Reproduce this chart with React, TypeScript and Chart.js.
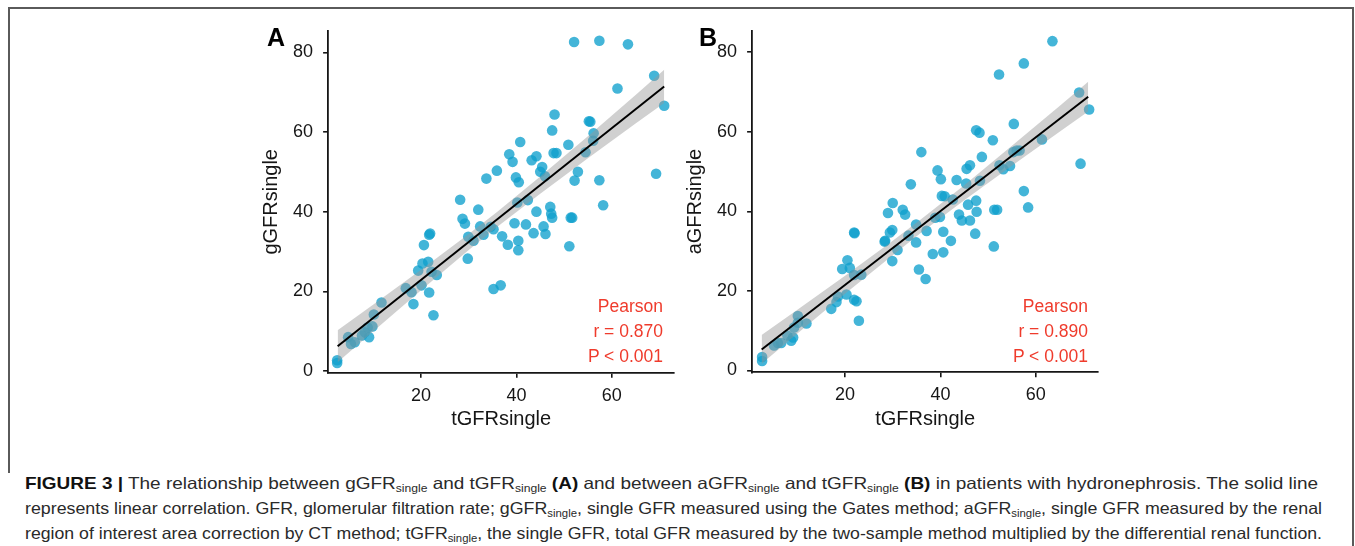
import React, { useEffect, useLayoutEffect, useRef } from "react";
import { Chart, registerables } from "chart.js";

Chart.register(...registerables);

// ---------------- data ----------------
const tGFR_A = [
  2.4, 2.4, 4.7, 5.3, 6.1, 7.6, 8.2, 9.1, 8.8, 9.8, 10.1, 11.7, 16.8, 18.0, 18.4, 19.4, 20.1, 20.3, 21.5, 20.6,
  21.7, 21.9, 22.2, 23.3, 21.7, 22.6, 35.2, 36.7, 29.8,
  52.1, 57.4, 63.4, 68.9, 61.2, 71.0, 69.3, 48.0, 47.5, 55.2, 55.5, 56.2, 56.1, 54.5, 50.9, 48.4, 47.8, 40.8, 38.5,
  39.2, 43.2, 44.2, 45.4, 45.0, 46.0, 35.9, 33.7, 39.9, 40.5, 52.9, 52.2, 57.4, 58.2, 28.2, 32.0, 28.7, 29.2, 40.2,
  42.4, 44.2, 47.1, 47.3, 47.5, 51.4, 51.7, 32.4, 34.6, 35.2, 39.6, 42.0, 45.7, 29.9, 31.0, 33.1, 37.0, 43.6, 46.1,
  40.4, 38.2, 40.4, 51.1,
];
const gGFR = [
  2.7, 2.0, 8.5, 6.8, 7.2, 8.9, 9.7, 8.5, 10.9, 11.2, 14.2, 17.2, 20.8, 19.8, 16.8, 25.2, 21.5, 27.0, 27.4, 31.6,
  34.2, 34.5, 24.9, 24.1, 19.7, 14.0, 20.6, 21.5, 28.2,
  82.6, 82.9, 82.0, 74.1, 70.9, 66.6, 49.5, 64.4, 60.4, 62.7, 62.6, 59.7, 57.8, 54.9, 56.8, 54.7, 54.7, 57.5, 54.4,
  52.5, 52.9, 53.9, 51.2, 50.0, 48.9, 50.3, 48.3, 48.6, 47.4, 50.0, 47.8, 47.9, 41.6, 43.0, 40.5, 38.2, 37.0, 42.3,
  42.9, 40.0, 41.2, 39.5, 38.5, 38.5, 38.5, 36.3, 36.2, 35.6, 37.1, 36.8, 36.3, 33.7, 32.7, 34.2, 33.8, 34.6, 34.4,
  32.7, 31.7, 30.3, 31.3,
];

const tGFR_B = [
  2.6, 2.6, 5.1, 5.9, 6.6, 7.9, 8.7, 9.1, 9.3, 10.1, 10.1, 11.9, 17.1, 18.2, 18.5, 20.3, 21.9, 22.4, 22.9, 19.4,
  20.5, 21.0, 21.9, 23.4, 21.9, 22.0, 28.3, 29.9, 35.5, 36.9,
  63.5, 57.5, 52.3, 69.1, 71.2, 69.4, 55.4, 61.3, 47.5, 48.2, 51.0, 36.0, 48.7, 55.3, 56.0, 56.6, 52.4, 53.2, 54.6,
  39.4, 40.1, 45.5, 46.2, 43.4, 45.4, 48.3, 33.8, 40.3, 40.9, 42.6, 45.8, 47.5, 47.6, 51.3, 51.9, 57.5, 58.4, 30.0,
  29.0, 32.1, 32.6, 34.9, 38.9, 39.9, 43.9, 44.5, 46.2, 40.6, 47.3, 42.2, 29.9, 29.4, 28.4, 33.3, 37.1, 34.9, 38.4,
  40.6, 51.2, 31.0,
];
const aGFR = [
  3.4, 2.4, 6.3, 6.9, 6.9, 8.8, 7.5, 8.3, 10.8, 13.7, 12.0, 11.8, 15.5, 17.2, 18.6, 19.1, 17.8, 17.4, 12.5, 25.5,
  27.7, 25.8, 24.0, 24.1, 34.7, 34.5, 32.4, 27.5, 25.4, 23.0,
  82.8, 77.2, 74.4, 69.9, 65.6, 52.0, 62.0, 58.1, 60.4, 59.8, 57.9, 54.9, 53.7, 54.9, 55.3, 55.3, 51.6, 50.6, 51.4,
  50.3, 48.1, 50.7, 51.6, 47.9, 47.0, 47.7, 46.8, 43.9, 43.8, 43.0, 41.7, 42.7, 39.9, 40.4, 40.4, 45.1, 41.0, 42.1,
  39.6, 40.4, 39.2, 36.7, 38.4, 38.6, 39.2, 37.7, 37.7, 34.9, 34.4, 32.6, 35.3, 34.7, 32.6, 33.9, 35.1, 32.2, 29.3,
  29.7, 31.2, 30.3,
];

// regression lines and 95% confidence bands
const fitX = [2.5, 71.0];
const fitY_A = [6.2, 71.4];
const fitY_B = [5.3, 68.8];
const bandX = [2.5, 10, 20, 30, 36, 45, 55, 65, 71];
const bandUpper_A = [10.2, 16.7, 25.4, 34.4, 40.0, 48.8, 58.9, 69.3, 75.6];
const bandLower_A = [2.2, 10.0, 20.3, 30.4, 36.2, 44.5, 53.4, 62.1, 67.3];
const bandUpper_B = [8.9, 15.3, 23.8, 32.6, 38.1, 46.6, 56.5, 66.5, 72.6];
const bandLower_B = [1.7, 9.3, 19.3, 29.0, 34.7, 42.8, 51.5, 60.0, 65.1];

const xTicks = [20, 40, 60];
const yTicks = [0, 20, 40, 60, 80];
const statsA = ["Pearson", "r = 0.870", "P < 0.001"];
const statsB = ["Pearson", "r = 0.890", "P < 0.001"];

// ---------------- styling ----------------
const FONT = "'Liberation Sans', Arial, Helvetica, sans-serif";
const INK = "#161616";
const POINT = "rgba(16,160,205,0.78)";
const BAND = "rgba(150,150,150,0.45)";
const RED = "#ef3b2c";

type Area = { left: number; right: number; top: number; bottom: number };
type PanelProps = {
  box: { left: number; top: number; width: number; height: number };
  area: Area;
  xs: number[];
  ys: number[];
  lineY: number[];
  bandUp: number[];
  bandLo: number[];
  xTitle: string;
  yTitle: string;
  yTitleMid: number; // page x of the middle of the rotated y title
};

const X_MIN = 0.5, X_MAX = 73.1, Y_MIN = -0.45, Y_MAX = 85.4;

function Panel(p: PanelProps) {
  const ref = useRef<HTMLCanvasElement>(null);
  useEffect(() => {
    const cv = ref.current;
    if (!cv) return;
    const { box, area } = p;
    const yAxisW = area.left - box.left;
    const padRight = box.left + box.width - area.right;
    const padTop = area.top - box.top;
    const xAxisH = box.top + box.height - area.bottom;
    const xTitleMid = 419.6 - box.top; // canvas y of x-title middle
    const xTitlePad = box.height - xTitleMid - 12;
    const yTitlePad = p.yTitleMid - box.left - 12;

    const chart = new Chart(cv, {
      type: "scatter",
      data: {
        datasets: [
          {
            type: "line",
            data: fitX.map((x, i) => ({ x, y: p.lineY[i] })),
            borderColor: "#000",
            borderWidth: 2,
            pointRadius: 0,
            fill: false,
            order: 0,
          } as any,
          {
            type: "line",
            data: bandX.map((x, i) => ({ x, y: p.bandUp[i] })),
            borderColor: "rgba(0,0,0,0)",
            borderWidth: 0,
            pointRadius: 0,
            backgroundColor: BAND,
            fill: "+1",
            order: 1,
          } as any,
          {
            type: "line",
            data: bandX.map((x, i) => ({ x, y: p.bandLo[i] })),
            borderColor: "rgba(0,0,0,0)",
            borderWidth: 0,
            pointRadius: 0,
            fill: false,
            order: 1,
          } as any,
          {
            data: p.xs.map((x, i) => ({ x, y: p.ys[i] })),
            backgroundColor: POINT,
            borderWidth: 0,
            pointRadius: 5.3,
            pointHoverRadius: 5.3,
            order: 2,
          } as any,
        ],
      },
      options: {
        animation: false,
        responsive: false,
        maintainAspectRatio: false,
        devicePixelRatio: 1,
        events: [],
        layout: { padding: { left: 0, right: padRight, top: padTop, bottom: 0 } },
        plugins: { legend: { display: false }, tooltip: { enabled: false } },
        scales: {
          x: {
            type: "linear",
            min: X_MIN,
            max: X_MAX,
            afterBuildTicks: (s: any) => {
              s.ticks = xTicks.map((v) => ({ value: v }));
            },
            afterFit: (s: any) => {
              s.height = xAxisH;
            },
            ticks: { font: { family: FONT, size: 18 }, color: INK, padding: 7, maxRotation: 0 },
            grid: { drawOnChartArea: false, drawTicks: true, tickLength: 5, color: INK, lineWidth: 1.6 },
            border: { display: true, color: INK, width: 1.8 },
            title: {
              display: true,
              text: p.xTitle,
              color: INK,
              font: { family: FONT, size: 20 },
              padding: { top: 0, bottom: xTitlePad },
            },
          },
          y: {
            type: "linear",
            min: Y_MIN,
            max: Y_MAX,
            afterBuildTicks: (s: any) => {
              s.ticks = yTicks.map((v) => ({ value: v }));
            },
            afterFit: (s: any) => {
              s.width = yAxisW;
            },
            ticks: { font: { family: FONT, size: 18 }, color: INK, padding: 10 },
            grid: { drawOnChartArea: false, drawTicks: true, tickLength: 5, color: INK, lineWidth: 1.6 },
            border: { display: true, color: INK, width: 1.8 },
            title: {
              display: true,
              text: p.yTitle,
              color: INK,
              font: { family: FONT, size: 20 },
              padding: { top: yTitlePad, bottom: 0 },
            },
          },
        },
      } as any,
    });
    return () => chart.destroy();
  }, []);
  const { box } = p;
  return (
    <canvas
      ref={ref}
      width={box.width}
      height={box.height}
      style={{ position: "absolute", left: box.left, top: box.top, width: box.width, height: box.height }}
    />
  );
}

function Stats({ lines, right }: { lines: string[]; right: number }) {
  return (
    <div
      style={{
        position: "absolute",
        left: right - 200,
        width: 200,
        top: 294.4,
        textAlign: "right",
        fontFamily: FONT,
        fontSize: 17.5,
        lineHeight: "25px",
        color: RED,
      }}
    >
      {lines.map((l) => (
        <div key={l}>{l}</div>
      ))}
    </div>
  );
}

function Letter({ text, left }: { text: string; left: number }) {
  return (
    <div
      style={{
        position: "absolute",
        left,
        top: 22,
        fontFamily: FONT,
        fontWeight: "bold",
        fontSize: 25,
        lineHeight: "30px",
        color: "#000",
      }}
    >
      {text}
    </div>
  );
}

const Sub = ({ children }: { children: React.ReactNode }) => (
  <span style={{ fontSize: "0.64em", verticalAlign: "-0.3em", lineHeight: 0 }}>{children}</span>
);

function CaptionLine({ top, x0, x1, children }: { top: number; x0: number; x1: number; children: React.ReactNode }) {
  const ref = useRef<HTMLDivElement>(null);
  useLayoutEffect(() => {
    const el = ref.current;
    if (!el) return;
    const fit = () => {
      el.style.transform = "none";
      const w = el.getBoundingClientRect().width;
      if (w > 0) el.style.transform = `scaleX(${(x1 - x0) / w})`;
    };
    fit();
    if ((document as any).fonts && (document as any).fonts.ready) (document as any).fonts.ready.then(fit);
  }, []);
  return (
    <div
      ref={ref}
      style={{
        position: "absolute",
        left: x0,
        top,
        whiteSpace: "nowrap",
        transformOrigin: "0 0",
        fontFamily: FONT,
        fontSize: 16.5,
        lineHeight: "25px",
        color: "#2a2a2a",
      }}
    >
      {children}
    </div>
  );
}

export default function App() {
  return (
    <div
      style={{
        position: "fixed",
        left: 0,
        top: 0,
        width: 1355,
        height: 546,
        background: "#fff",
        overflow: "hidden",
      }}
    >
      {/* figure frame */}
      <div style={{ position: "absolute", left: 8, top: 7, width: 1346, height: 2, background: "#5a5a5a" }} />
      <div style={{ position: "absolute", left: 8, top: 7, width: 2, height: 466, background: "#5a5a5a" }} />
      <div style={{ position: "absolute", left: 1352, top: 7, width: 2, height: 539, background: "#5a5a5a" }} />

      <Panel
        box={{ left: 255, top: 10, width: 440, height: 430 }}
        area={{ left: 328.1, right: 674.2, top: 24.8, bottom: 372.8 }}
        xs={tGFR_A}
        ys={gGFR}
        lineY={fitY_A}
        bandUp={bandUpper_A}
        bandLo={bandLower_A}
        xTitle="tGFRsingle"
        yTitle="gGFRsingle"
        yTitleMid={271.6}
      />
      <Panel
        box={{ left: 680, top: 10, width: 440, height: 430 }}
        area={{ left: 752.1, right: 1098.2, top: 24.6, bottom: 372.3 }}
        xs={tGFR_B}
        ys={aGFR}
        lineY={fitY_B}
        bandUp={bandUpper_B}
        bandLo={bandLower_B}
        xTitle="tGFRsingle"
        yTitle="aGFRsingle"
        yTitleMid={695.6}
      />

      <Letter text="A" left={267} />
      <Letter text="B" left={699} />
      <Stats lines={statsA} right={663} />
      <Stats lines={statsB} right={1088} />

      <CaptionLine top={470.5} x0={25} x1={1318}>
        <b style={{ color: "#111" }}>FIGURE 3 |</b> The relationship between gGFR<Sub>single</Sub> and tGFR
        <Sub>single</Sub> <b style={{ color: "#111" }}>(A)</b> and between aGFR<Sub>single</Sub> and tGFR
        <Sub>single</Sub> <b style={{ color: "#111" }}>(B)</b> in patients with hydronephrosis. The solid line
      </CaptionLine>
      <CaptionLine top={495.5} x0={25} x1={1322}>
        represents linear correlation. GFR, glomerular filtration rate; gGFR<Sub>single</Sub>, single GFR measured
        using the Gates method; aGFR<Sub>single</Sub>, single GFR measured by the renal
      </CaptionLine>
      <CaptionLine top={520.5} x0={25} x1={1322}>
        region of interest area correction by CT method; tGFR<Sub>single</Sub>, the single GFR, total GFR measured by
        the two-sample method multiplied by the differential renal function.
      </CaptionLine>
    </div>
  );
}
